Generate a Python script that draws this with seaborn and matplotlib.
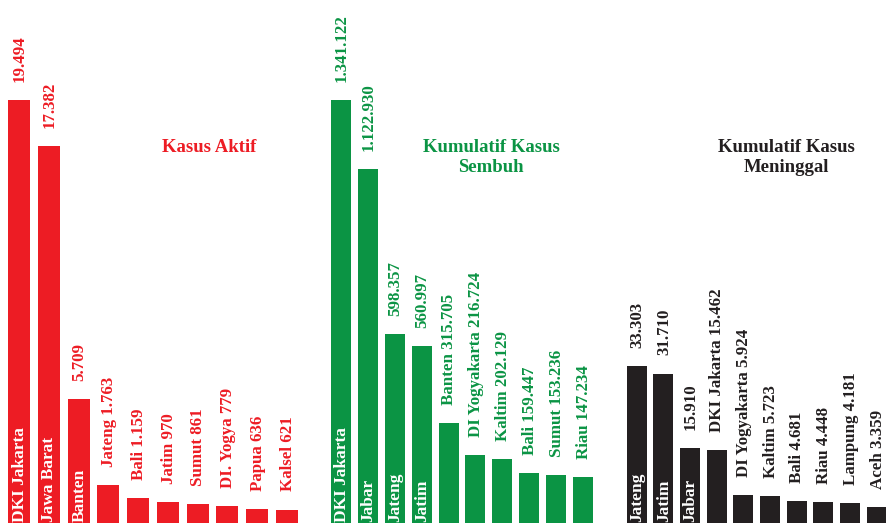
import matplotlib
matplotlib.use("Agg")
import matplotlib.pyplot as plt
import seaborn as sns

sns.set_theme(style="white")
plt.rcParams["font.serif"] = ["Liberation Serif", "DejaVu Serif"]
plt.rcParams["font.family"] = "serif"

# Kasus aktif per provinsi
aktif_names = ["DKI Jakarta", "Jawa Barat", "Banten", "Jateng", "Bali",
               "Jatim", "Sumut", "DI. Yogya", "Papua", "Kalsel"]
aktif_values = [19494, 17382, 5709, 1763, 1159, 970, 861, 779, 636, 621]
aktif_inside = ["DKI Jakarta", "Jawa Barat", "Banten"]

# Kumulatif kasus sembuh
sembuh_names = ["DKI Jakarta", "Jabar", "Jateng", "Jatim", "Banten",
                "DI Yogyakarta", "Kaltim", "Bali", "Sumut", "Riau"]
sembuh_values = [1341122, 1122930, 598357, 560997, 315705,
                 216724, 202129, 159447, 153236, 147234]
sembuh_inside = ["DKI Jakarta", "Jabar", "Jateng", "Jatim"]

# Kumulatif kasus meninggal
meninggal_names = ["Jateng", "Jatim", "Jabar", "DKI Jakarta", "DI Yogyakarta",
                   "Kaltim", "Bali", "Riau", "Lampung", "Aceh"]
meninggal_values = [33303, 31710, 15910, 15462, 5924,
                    5723, 4681, 4448, 4181, 3359]
meninggal_inside = ["Jateng", "Jatim", "Jabar"]

RED = "#ed1c24"
GREEN = "#0b9444"
BLACK = "#231f20"

W, H = 887, 523
fig = plt.figure(figsize=(W / 100, H / 100), dpi=100)


def fmt(v):
    return f"{v:,}".replace(",", ".")


def panel(left_px, width_px, names, values, inside, color, bar_w,
          top_frac, title, title_xy):
    ax = fig.add_axes([left_px / W, 0, width_px / W, 1])
    sns.barplot(x=names, y=values, order=names, ax=ax, color=color,
                saturation=1, width=bar_w, edgecolor="none")
    ax.set_xlim(-0.5, len(names) - 0.5)
    ax.set_ylim(0, max(values) / top_frac)
    ax.axis("off")
    for i, (n, v) in enumerate(zip(names, values)):
        if n in inside:
            ax.annotate(n, (i, 0), xytext=(0.5, 1.0), textcoords="offset points",
                        rotation=90, ha="center", va="bottom",
                        color="white", fontsize=12.5, fontweight="bold",
                        family="serif")
            label = fmt(v)
        else:
            label = f"{n} {fmt(v)}"
        ax.annotate(label, (i, v), xytext=(0.5, 13), textcoords="offset points",
                    rotation=90, ha="center", va="bottom",
                    color=color, fontsize=12.2, fontweight="bold",
                    family="serif")
    fig.text(title_xy[0] / W, 1 - title_xy[1] / H, title, ha="center",
             va="top", color=color, fontsize=13.5, fontweight="bold",
             linespacing=1.2, family="serif")
    return ax


panel(4.1, 297.8, aktif_names, aktif_values, aktif_inside, RED, 0.74,
      423 / 523, "Kasus Aktif", (209.5, 139))
panel(327.5, 269, sembuh_names, sembuh_values, sembuh_inside, GREEN, 0.745,
      423 / 523, "Kumulatif Kasus\nSembuh", (491, 139))
panel(623.2, 267, meninggal_names, meninggal_values, meninggal_inside, BLACK,
      0.75, 157 / 523, "Kumulatif Kasus\nMeninggal", (786, 139))

fig.savefig("out.png", dpi=100)
